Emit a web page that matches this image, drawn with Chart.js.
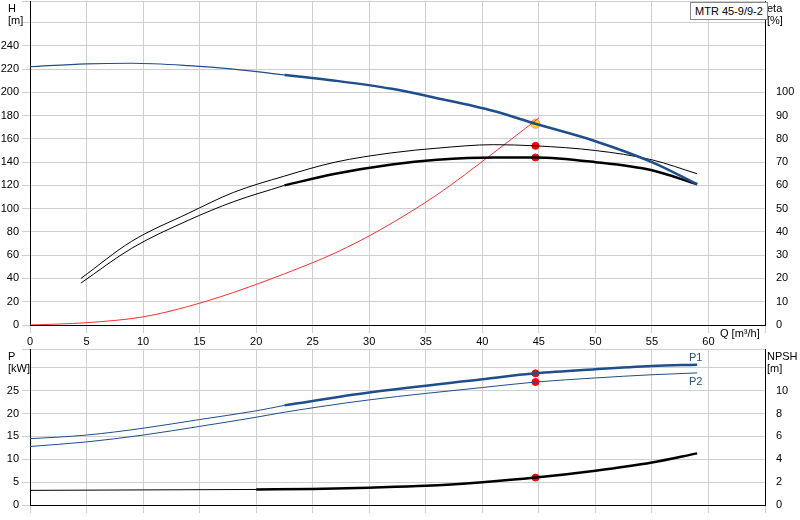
<!DOCTYPE html>
<html><head><meta charset="utf-8">
<script src="https://cdn.jsdelivr.net/npm/chart.js@4/dist/chart.umd.min.js"></script>
<style>
body{margin:0;background:#fff;font-family:"Liberation Sans",Arial,sans-serif;}
#w{position:relative;width:800px;height:520px;overflow:hidden;}
canvas{position:absolute;left:0;}
.t{position:absolute;font-size:11px;color:#000;line-height:12px;}
</style></head><body>
<div id="w">
<canvas id="c1" style="top:-8px" width="800" height="353"></canvas>
<canvas id="c2" style="top:340px" width="800" height="180"></canvas>
<div class="t" style="left:8px;top:2px;background:#fff">H<br>[m]</div>
<div class="t" style="left:767px;top:2px;background:#fff">eta<br>[%]</div>
<div class="t" style="left:690px;top:2px;border:1px solid #888;padding:2px 4px;background:#fff">MTR 45-9/9-2</div>
<div class="t" style="left:720px;top:327px">Q [m³/h]</div>
<div class="t" style="left:8px;top:350px">P<br>[kW]</div>
<div class="t" style="left:767px;top:350px">NPSH<br>[m]</div>
<div class="t" style="left:689px;top:351px;color:#1f4e8c">P1</div>
<div class="t" style="left:689px;top:375px;color:#1f4e8c">P2</div>
</div>
<script>
// Top chart data
const hQ1=[0,5,9,14,18,22.5];
const hV1=[222,224.5,225,223,220,215];
const hQ2=[22.5,27,32,36,41,44.7,50,55,59];
const hV2=[215,210,203,195,184,173,158,140,121];
const etaUpQ=[4.5,9,14,18,22.5,27,32,36,41,44.7,50,55,59];
const etaUpV=[20,36,48,57,64,70,74,76,77.5,77,75,71,65];
const etaLoQ1=[4.5,9,14,18,22.5];
const etaLoV1=[18,33,45,53,60];
const etaLoQ2=[22.5,27,32,36,41,44.7,50,55,59];
const etaLoV2=[60,65,69,71,72,72,70,66.5,60.5];
const sysQ=[0,5,10,14,18,22.5,27,31,36,41,45];
const sysV=[0,2,7,16,28,44,62,82,112,148,178];
// Bottom chart data
const pQ=[0,5,10,15,20,22.5,30,40,44.7,50,55,59];
const p1V=[14.5,15.3,16.8,18.7,20.6,21.8,24.6,27.5,28.8,29.7,30.4,30.7];
const p2V=[12.8,13.8,15.3,17.2,19.2,20.3,23,25.7,26.9,27.8,28.5,28.9];
const npQ=[0,10,20,25,30,35,40,44.7,50,55,59];
const npV=[1.28,1.32,1.36,1.4,1.52,1.68,2.0,2.4,3.0,3.72,4.52];
const dutyQ=44.7;

const pts=(q,v)=>q.map((x,i)=>({x,y:v[i]}));
const blue='#1f4e8c';
const grid={color:'#cfcfcf',lineWidth:1};
const font={family:'Liberation Sans',size:11};
function line(q,v,color,w,axis){return {data:pts(q,v),borderColor:color,borderWidth:w,pointRadius:0,yAxisID:axis,cubicInterpolationMode:'monotone',fill:false};}
function fit(wd){return s=>{s.width=wd;};}
const xScale=(show)=>({type:'linear',min:0,max:65,grid,border:{color:'#000'},
  ticks:{stepSize:5,display:show,color:'#000',font,padding:2,maxRotation:0,callback:v=>v>60?'':v},
  afterFit:s=>{s.height=show?20:15;}});

new Chart(document.getElementById('c1'),{type:'line',
 data:{datasets:[
  line(hQ1,hV1,blue,1.2,'h'),
  line(hQ2,hV2,blue,2.5,'h'),
  line(etaUpQ,etaUpV,'#000',1,'e'),
  line(etaLoQ1,etaLoV1,'#000',1,'e'),
  line(etaLoQ2,etaLoV2,'#000',2.5,'e'),
  line(sysQ,sysV,'#ff3030',1,'h'),
  {type:'scatter',data:[{x:dutyQ,y:77},{x:dutyQ,y:72}],backgroundColor:'#ff0000',borderColor:'#ff0000',pointRadius:3.5,yAxisID:'e'},
  {type:'scatter',data:[{x:dutyQ,y:173}],backgroundColor:'#ffe000',borderColor:'#ff8080',pointRadius:4.5,yAxisID:'h'}
 ]},
 options:{animation:false,responsive:false,events:[],layout:{padding:{top:2,left:0,right:0,bottom:0}},
  plugins:{legend:{display:false},tooltip:{enabled:false}},
  scales:{x:xScale(true),
   h:{position:'left',min:0,max:278,grid,border:{color:'#000'},ticks:{stepSize:20,color:'#000',font,padding:3,callback:v=>v>240?'':v},afterFit:fit(30)},
   e:{position:'right',min:0,max:139,grid:{display:false},border:{color:'#000'},ticks:{stepSize:10,color:'#000',font,padding:3,callback:v=>v>100?'':v},afterFit:fit(35)}}}
});

new Chart(document.getElementById('c2'),{type:'line',
 data:{datasets:[
  line(pQ.slice(0,6),p1V.slice(0,6),blue,1,'p'),
  line(pQ.slice(5),p1V.slice(5),blue,2.5,'p'),
  line(pQ,p2V,blue,1,'p'),
  line(npQ.slice(0,3),npV.slice(0,3),'#000',1,'n'),
  line(npQ.slice(2),npV.slice(2),'#000',2.5,'n'),
  {type:'scatter',data:[{x:dutyQ,y:28.8},{x:dutyQ,y:26.9}],backgroundColor:'#ff0000',borderColor:'#ff0000',pointRadius:3.5,yAxisID:'p'},
  {type:'scatter',data:[{x:dutyQ,y:2.4}],backgroundColor:'#ff0000',borderColor:'#ff0000',pointRadius:3.5,yAxisID:'n'}
 ]},
 options:{animation:false,responsive:false,events:[],layout:{padding:{top:3,left:0,right:0,bottom:0}},
  plugins:{legend:{display:false},tooltip:{enabled:false}},
  scales:{x:xScale(false),
   p:{position:'left',min:0,max:34,grid,border:{color:'#000'},ticks:{stepSize:5,color:'#000',font,padding:3,callback:v=>v>25?'':v},afterFit:fit(30)},
   n:{position:'right',min:0,max:13.6,grid:{display:false},border:{color:'#000'},ticks:{stepSize:2,color:'#000',font,padding:3,callback:v=>v>10?'':v},afterFit:fit(35)}}}
});
</script>
</body></html>
